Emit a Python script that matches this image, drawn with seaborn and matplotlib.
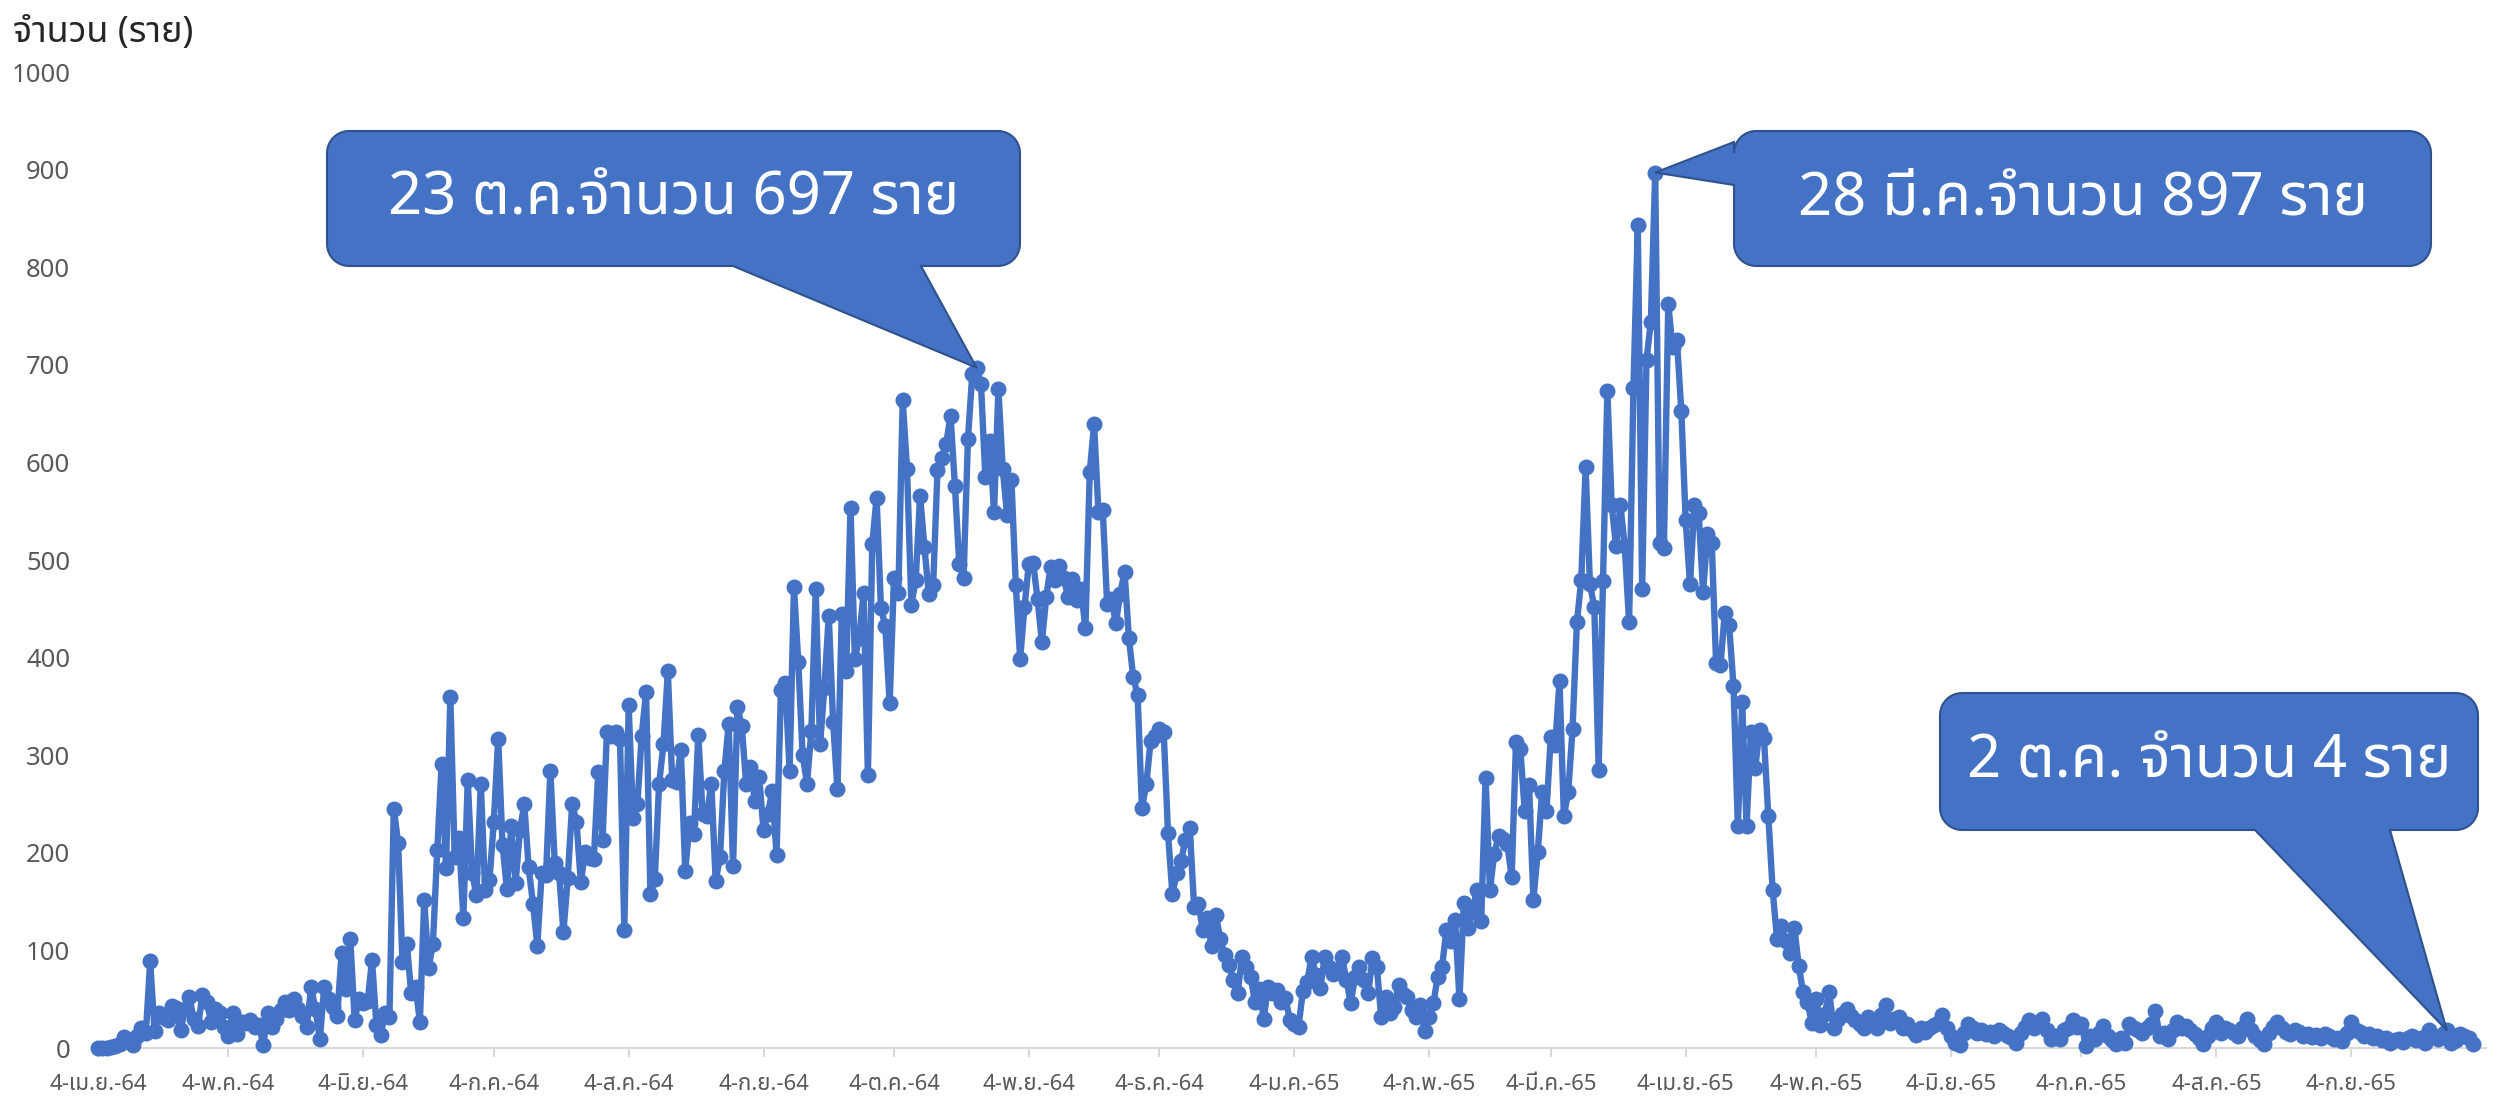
import numpy as np
import pandas as pd
import matplotlib
matplotlib.use("Agg")
import matplotlib.pyplot as plt
import matplotlib.dates as mdates
from matplotlib import font_manager as fm
from matplotlib.ft2font import FT2Font
from matplotlib.patches import Polygon
import seaborn as sns


### DATA: daily cases, one list per month (starts 4 Apr 2021) ###

apr21 = [0, 0, 0, 1, 2, 4, 11, 7, 3, 12, 20, 15, 89, 17, 36, 32, 29, 43, 41, 18, 40, 52, 30, 23, 54, 47, 27]
may21 = [40, 36, 22, 12, 36, 14, 27, 26, 29, 22, 24, 3, 36, 22, 30, 39, 47, 39, 50, 40, 33, 22, 62, 40, 9, 62, 50, 42, 33, 97, 60]
jun21 = [112, 29, 50, 46, 48, 90, 24, 13, 36, 32, 245, 210, 88, 107, 56, 63, 27, 152, 82, 107, 203, 291, 184, 360, 196, 215, 133, 275, 179, 157]
jul21 = [271, 162, 172, 232, 317, 208, 163, 227, 169, 223, 250, 185, 148, 105, 179, 177, 284, 190, 179, 119, 174, 250, 232, 170, 201, 195, 194, 283, 213, 324, 320]
aug21 = [324, 317, 121, 351, 236, 250, 320, 365, 158, 173, 271, 311, 386, 275, 273, 305, 181, 231, 219, 321, 240, 238, 271, 171, 196, 284, 332, 186, 349, 330, 271]
sep21 = [288, 253, 278, 223, 240, 263, 198, 367, 374, 284, 472, 395, 300, 271, 325, 470, 311, 369, 443, 334, 265, 445, 386, 553, 399, 420, 466, 280, 516, 564]
oct21 = [451, 432, 353, 482, 466, 664, 593, 454, 480, 566, 513, 465, 474, 592, 605, 619, 648, 576, 496, 482, 624, 691, 697, 680, 585, 622, 549, 675, 593, 546, 582]
nov21 = [474, 399, 452, 496, 497, 460, 416, 462, 493, 479, 494, 482, 462, 481, 459, 470, 430, 590, 639, 549, 551, 455, 460, 435, 465, 488, 420, 380, 362, 246]
dec21 = [270, 315, 320, 327, 324, 220, 158, 179, 192, 213, 225, 144, 148, 121, 133, 104, 136, 112, 95, 85, 70, 56, 93, 83, 73, 47, 60, 30, 63, 56, 59]
jan22 = [47, 51, 29, 25, 22, 58, 68, 93, 75, 61, 93, 83, 76, 80, 93, 70, 46, 73, 83, 70, 56, 92, 83, 32, 52, 36, 42, 65, 55, 52, 39]
feb22 = [32, 44, 17, 32, 46, 73, 83, 121, 110, 131, 50, 149, 123, 140, 162, 130, 277, 162, 199, 217, 214, 209, 175, 314, 306, 243, 269, 152]
mar22 = [201, 262, 243, 319, 310, 376, 238, 262, 327, 436, 480, 595, 475, 452, 285, 478, 673, 556, 514, 556, 514, 436, 676, 843, 470, 705, 744, 897, 517, 512, 762]
apr22 = [718, 725, 653, 541, 475, 556, 548, 467, 527, 517, 394, 392, 446, 433, 371, 227, 355, 227, 324, 287, 326, 318, 238, 162, 112, 125, 110, 97, 123, 84]
may22 = [57, 47, 26, 50, 24, 35, 57, 21, 30, 35, 40, 33, 29, 25, 21, 32, 28, 21, 34, 44, 26, 30, 32, 21, 25, 18, 13, 20, 16, 20, 24]
jun22 = [26, 34, 20, 12, 5, 3, 15, 25, 20, 15, 18, 14, 16, 12, 18, 15, 12, 10, 5, 15, 22, 29, 20, 25, 30, 18, 9, 12, 9, 18]
jul22 = [20, 29, 22, 25, 2, 12, 9, 15, 23, 12, 8, 4, 10, 5, 25, 20, 18, 15, 20, 25, 38, 12, 15, 9, 18, 27, 20, 23, 18, 14, 10]
aug22 = [4, 12, 20, 27, 15, 20, 18, 15, 12, 20, 30, 18, 12, 8, 4, 15, 22, 27, 20, 16, 14, 18, 16, 12, 14, 11, 13, 10, 14, 12, 9]
sep22 = [10, 7, 15, 27, 18, 16, 12, 14, 10, 12, 8, 10, 5, 8, 9, 6, 10, 12, 8, 10, 5, 18, 12, 9, 14, 18, 5, 8, 14, 12]
oct22 = [10, 4]

start_date = "2021-04-04"
tick_labels = ["4-เม.ย.-64", "4-พ.ค.-64", "4-มิ.ย.-64", "4-ก.ค.-64", "4-ส.ค.-64", "4-ก.ย.-64",
               "4-ต.ค.-64", "4-พ.ย.-64", "4-ธ.ค.-64", "4-ม.ค.-65", "4-ก.พ.-65", "4-มี.ค.-65",
               "4-เม.ย.-65", "4-พ.ค.-65", "4-มิ.ย.-65", "4-ก.ค.-65", "4-ส.ค.-65", "4-ก.ย.-65"]
y_title = "จำนวน (ราย)"

callout_texts = ["23 ต.ค.จำนวน 697 ราย", "28 มี.ค.จำนวน 897 ราย", "2 ต.ค. จำนวน 4 ราย"]
callout_tips = [("2021-10-23", 697), ("2022-03-28", 897), ("2022-09-26", 18)]


# find an installed font that has Thai glyphs
def find_thai_font():
    preferred = ["Leelawadee UI", "Leelawadee", "Tahoma", "Noto Sans Thai", "Noto Sans Thai UI",
                 "Noto Sans Thai Looped", "Sarabun", "Loma", "Garuda", "Waree", "Umpush", "Norasi"]
    found = set()
    for f in fm.fontManager.ttflist:
        try:
            if FT2Font(f.fname).get_char_index(ord("จ")):
                found.add(f.name)
        except Exception:
            pass
    for p in preferred:
        if p in found:
            return p
    return sorted(found)[0] if found else None


sns.set_style("white")
thai_font = find_thai_font()
families = ["Noto Sans"] + ([thai_font] if thai_font else []) + ["DejaVu Sans"]
plt.rcParams["font.family"] = families

values = (apr21 + may21 + jun21 + jul21 + aug21 + sep21 + oct21 + nov21 + dec21 + jan22
          + feb22 + mar22 + apr22 + may22 + jun22 + jul22 + aug22 + sep22 + oct22)
dates = pd.date_range(start_date, periods=len(values), freq="D")
df = pd.DataFrame({"date": dates, "cases": values})

W, H = 2499, 1104
BLUE = "#4472C4"

fig = plt.figure(figsize=(W / 100, H / 100), dpi=100)
ax = fig.add_axes([98 / W, 1 - 1048 / H, (2486 - 98) / W, (1048 - 72) / H])

sns.lineplot(data=df, x="date", y="cases", ax=ax, color=BLUE, lw=4.6, marker="o",
             markersize=11.5, markeredgewidth=0, markeredgecolor=BLUE, clip_on=False, zorder=3)

start = pd.Timestamp(start_date)
ax.set_xlim(start, start + pd.Timedelta(days=549))
ax.set_ylim(0, 1000)

tick_dates = pd.date_range(start_date, periods=len(tick_labels), freq=pd.DateOffset(months=1))
ax.set_xticks(tick_dates)
ax.set_xticklabels(tick_labels)
ax.set_yticks(range(0, 1001, 100))

ax.tick_params(axis="x", direction="out", length=6.5, width=1.5, color="#d9d9d9",
               labelsize=16, labelcolor="#595959", pad=12, bottom=True)
ax.tick_params(axis="y", length=0, labelsize=18.5, labelcolor="#595959", pad=20)

for side in ["top", "right", "left"]:
    ax.spines[side].set_visible(False)
ax.spines["bottom"].set_color("#d9d9d9")
ax.spines["bottom"].set_linewidth(1.5)
ax.grid(False)
ax.set_xlabel("")
ax.set_ylabel("")

fig.text(13 / W, 1 - 42 / H, y_title, fontsize=26, color="#262626", ha="left", va="baseline")


# callout shapes, built in pixel coordinates (y down), then put on the figure
def callout(box, base, tip, side, text, r=22):
    x0, y0, x1, y1 = box

    def arc(cx, cy, a0, a1):
        t = np.radians(np.linspace(a0, a1, 10))
        return [(cx + r * np.cos(a), cy + r * np.sin(a)) for a in t]

    pts = arc(x1 - r, y0 + r, -90, 0) + arc(x1 - r, y1 - r, 0, 90)
    if side == "bottom":
        pts += [(base[1], y1), tip, (base[0], y1)]
    pts += arc(x0 + r, y1 - r, 90, 180)
    if side == "left":
        pts += [(x0, base[1]), tip, (x0, base[0])]
    pts += arc(x0 + r, y0 + r, 180, 270)

    fig_pts = [(px / W, 1 - py / H) for px, py in pts]
    fig.add_artist(Polygon(fig_pts, closed=True, facecolor=BLUE, edgecolor="#2F528F",
                           lw=1.5, transform=fig.transFigure, zorder=5))
    fig.text((x0 + x1) / 2 / W, 1 - (y0 + y1) / 2 / H, text, color="white", fontsize=43,
             ha="center", va="center", zorder=6)


def tip_px(date, value):
    x, y = ax.transData.transform((mdates.date2num(pd.Timestamp(date)), value))
    return (x, H - y)


callout((327, 131, 1020, 266), (733, 921), tip_px(*callout_tips[0]), "bottom", callout_texts[0])
callout((1734, 131, 2431, 266), (142, 185), tip_px(*callout_tips[1]), "left", callout_texts[1])
callout((1940, 693, 2478, 830), (2255, 2390), tip_px(*callout_tips[2]), "bottom", callout_texts[2])

fig.savefig("out.png", dpi=100)
